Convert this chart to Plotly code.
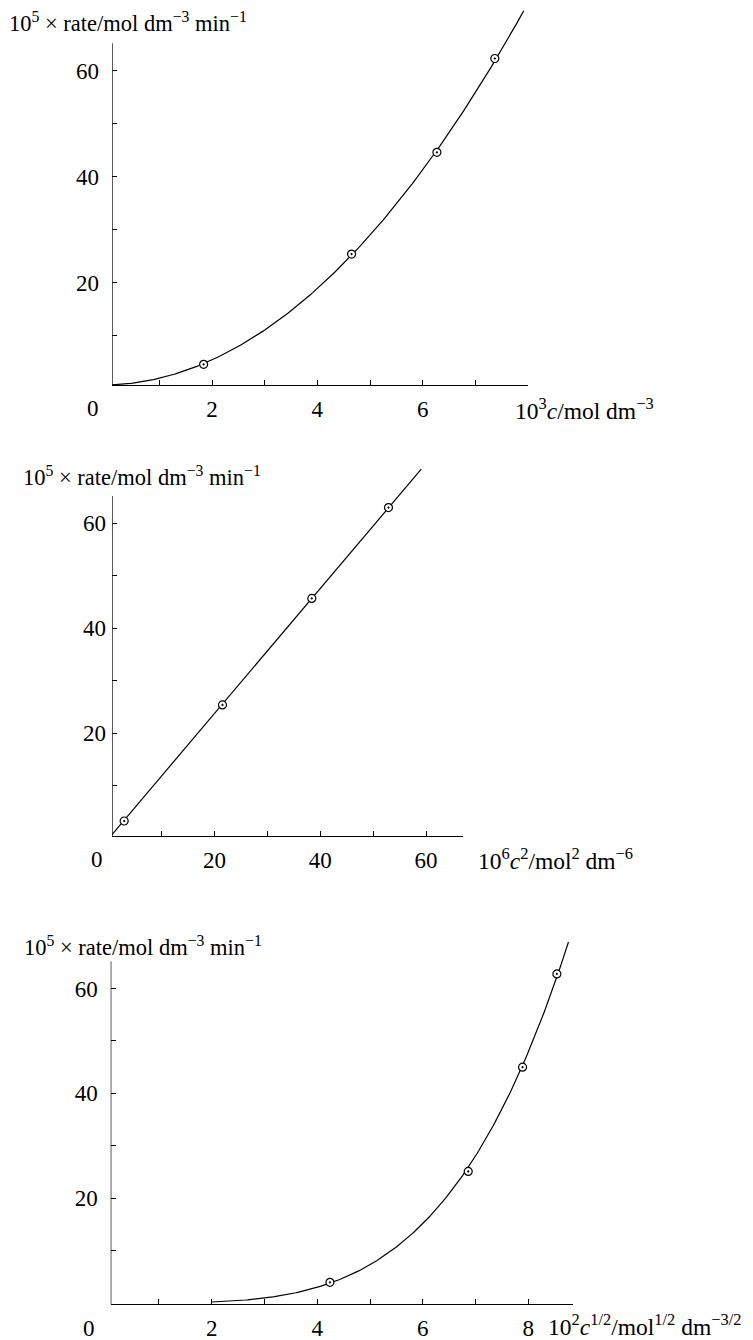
import numpy as np
import plotly.graph_objects as go

W, H = 753, 1340

# ---- data ----
# panel 1: rate vs 10^3 c
c_vals = [1.84, 4.65, 6.27, 7.37]
rate_c = [4.6, 25.4, 44.6, 62.3]
# panel 1 drawn curve
curve1_c = [0.1, 1.0, 1.84, 4.65, 6.27, 7.37, 7.92]
curve1_rate = [0.7, 2.1, 4.6, 25.4, 44.6, 62.3, 71.1]
# panel 2: rate vs 10^6 c^2
c2_vals = [2.9, 21.5, 38.4, 52.9]
rate_c2 = [3.3, 25.4, 45.7, 63.0]
# panel 3: rate vs 10^2 c^1/2
sqrtc_vals = [4.24, 6.86, 7.89, 8.54]
rate_sqrtc = [3.95, 25.1, 45.0, 62.8]

y_major = [20, 40, 60]
y_minor = [10, 30, 50]
x1_major = [2, 4, 6]
x1_minor = [1, 3, 5, 7]
x2_major = [20, 40, 60]
x2_minor = [10, 30, 50]
x3_major = [2, 4, 6, 8]
x3_minor = [1, 3, 5, 7]

ytitle = "10<sup>5</sup> × rate/mol dm<sup>−3</sup> min<sup>−1</sup>"
xtitle1 = "10<sup>3</sup><i>c</i>/mol dm<sup>−3</sup>"
xtitle2 = "10<sup>6</sup><i>c</i><sup>2</sup>/mol<sup>2</sup> dm<sup>−6</sup>"
xtitle3 = "10<sup>2</sup><i>c</i><sup>1/2</sup>/mol<sup>1/2</sup> dm<sup>−3/2</sup>"

FONT = "Liberation Serif, Times New Roman, serif"
FS = 23
FT_Y = 22.5
FT_X = 23.5

# ---- smooth curves (least squares on the read values) ----
p1 = np.polyfit(curve1_c, curve1_rate, 3)
xc1 = np.linspace(0.1, 7.92, 200)
yc1 = np.polyval(p1, xc1)

X2 = np.array(c2_vals); Y2 = np.array(rate_c2)
k2 = (X2 * Y2).sum() / (X2 * X2).sum()
xc2 = np.array([0.6, 59.1])
yc2 = k2 * xc2

X3 = np.array(sqrtc_vals); Y3 = np.array(rate_sqrtc)
k3 = (X3**4 * Y3).sum() / (X3**8).sum()
xc3 = np.linspace(2.0, 8.76, 200)
yc3 = k3 * xc3**4

fig = go.Figure()
line_style = dict(color="black", width=1.2)
marker_style = dict(symbol="circle-dot", size=8, color="white",
                    line=dict(color="black", width=1.2))

for xc, yc, xp, yp, xa, ya in [(xc1, yc1, c_vals, rate_c, "x", "y"),
                               (xc2, yc2, c2_vals, rate_c2, "x2", "y2"),
                               (xc3, yc3, sqrtc_vals, rate_sqrtc, "x3", "y3")]:
    fig.add_trace(go.Scatter(x=xc, y=yc, mode="lines", line=line_style,
                             xaxis=xa, yaxis=ya, showlegend=False, hoverinfo="skip"))
    fig.add_trace(go.Scatter(x=xp, y=yp, mode="markers", marker=marker_style,
                             xaxis=xa, yaxis=ya, showlegend=False))

def px(x):
    return x / W

def py(y):
    return 1 - y / H

tickfont = dict(family=FONT, size=FS, color="black")

def minor(tv):
    return dict(tickmode="array", tickvals=tv, ticks="inside", ticklen=5,
                tickwidth=1.2, tickcolor="black", showgrid=False)

def xaxis(dom, rng, tv, mv):
    return dict(domain=dom, range=rng, tickmode="array", tickvals=tv, ticks="inside",
                ticklen=5, tickwidth=1.2, tickcolor="black", showline=True,
                linecolor="black", linewidth=1.3, showgrid=False, zeroline=False,
                tickfont=tickfont, ticklabelstandoff=3, fixedrange=True,
                minor=minor(mv))

def yaxis(dom, rng, standoff):
    return dict(domain=dom, range=rng, tickmode="array", tickvals=y_major,
                ticks="inside", ticklen=5, tickwidth=1.2, tickcolor="black",
                showline=False, showgrid=False, zeroline=False, tickfont=tickfont,
                ticklabelstandoff=standoff, fixedrange=True, minor=minor(y_minor))

layout = dict(
    width=W, height=H, margin=dict(l=0, r=0, t=0, b=0),
    paper_bgcolor="white", plot_bgcolor="white",
    font=dict(family=FONT, size=FS, color="black"),
    xaxis=xaxis([px(112), px(528)], [0.1, 8.0], x1_major, x1_minor),
    yaxis=yaxis([py(385), py(7.1)], [0.7, 72], 12),
    xaxis2=xaxis([px(112), px(463)], [0.6, 67.0], x2_major, x2_minor),
    yaxis2=yaxis([py(836), py(460.3)], [0.44, 72], 5),
    xaxis3=xaxis([px(110.7), px(572.7)], [0.085, 8.84], x3_major, x3_minor),
    yaxis3=yaxis([py(1304.3), py(925.7)], [-0.25, 72], 12),
)
layout["xaxis2"]["anchor"] = "y2"
layout["yaxis2"]["anchor"] = "x2"
layout["xaxis3"]["anchor"] = "y3"
layout["yaxis3"]["anchor"] = "x3"
fig.update_layout(**layout)

# y axis lines (shorter than the plot area)
for xr, yr, x0, y0 in [("x", "y", 0.1, 0.7), ("x2", "y2", 0.6, 0.44), ("x3", "y3", 0.085, -0.25)]:
    fig.add_shape(type="line", xref=xr, yref=yr, x0=x0, x1=x0, y0=y0, y1=65.2,
                  line=dict(color="black", width=1.3))

ann = []
def text(x, y, t, anchor="left", size=FT_X):
    ann.append(dict(x=px(x), y=py(y), xref="paper", yref="paper", text=t,
                    showarrow=False, xanchor=anchor, yanchor="middle",
                    font=dict(family=FONT, size=size, color="black")))

text(7, 22, ytitle, size=FT_Y)
text(21, 476, ytitle, size=FT_Y)
text(22, 946, ytitle, size=FT_Y)
text(513, 409, xtitle1)
text(476, 859, xtitle2)
text(546, 1325, xtitle3)
text(93, 409, "0", "center", FS)
text(97, 859, "0", "center", FS)
text(89, 1328, "0", "center", FS)
fig.update_layout(annotations=ann)

fig.write_html("out.html", config={"displayModeBar": False},
               post_script="document.body.style.margin='0';document.body.style.overflow='hidden';")
